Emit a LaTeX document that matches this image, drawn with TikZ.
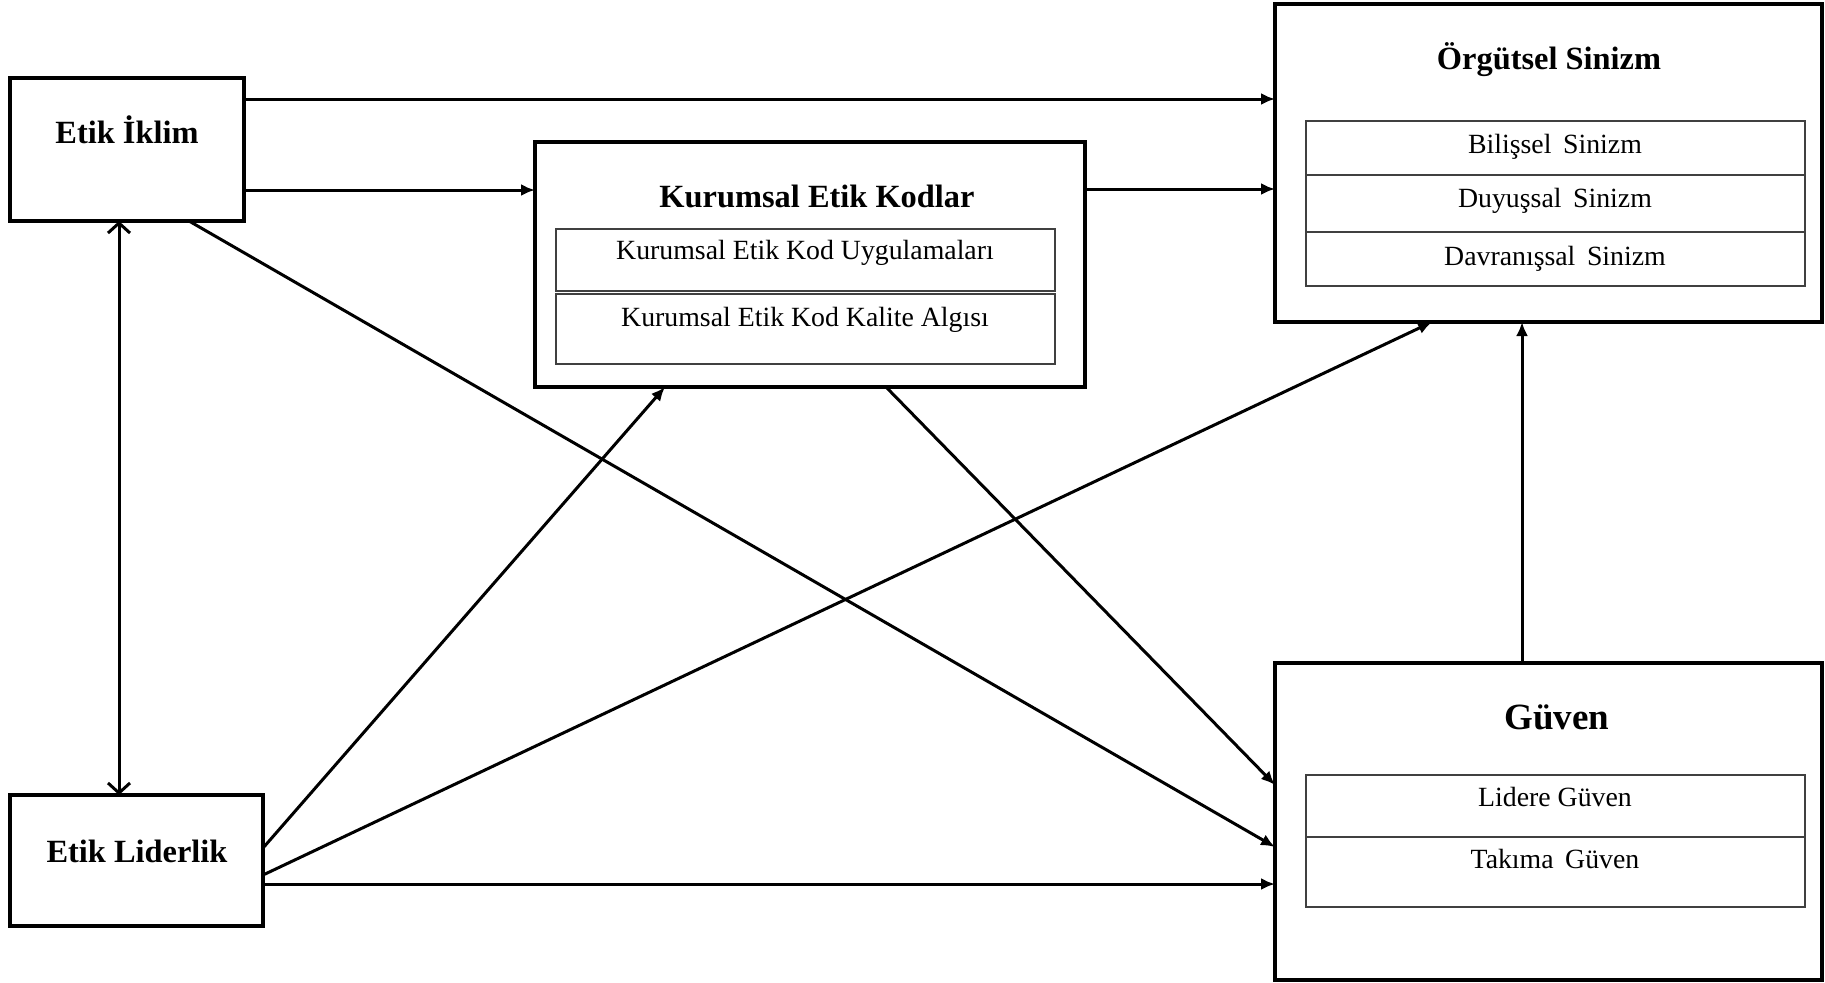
\documentclass[tikz,border=0pt]{standalone}
\usepackage{fontspec}
\setmainfont{Liberation Serif}
\usetikzlibrary{arrows.meta,fit}

\begin{document}
\begin{tikzpicture}[
  x=0.5pt, y=-0.5pt,
  outerbox/.style={draw=black, line width=1.6pt, inner sep=0pt, outer sep=0pt, fill=white},
  subbox/.style={draw=black!75, line width=1pt, inner sep=0pt, outer sep=0pt},
  title/.style={font=\bfseries\fontsize{16.2}{19}\selectfont, anchor=base, inner sep=0pt},
  bigtitle/.style={font=\bfseries\fontsize{18.5}{22}\selectfont, anchor=base, inner sep=0pt},
  subtext/.style={font=\fontsize{13.9}{16}\selectfont, anchor=base, inner sep=0pt},
  arr/.style={line width=1.5pt, -{Latex[length=7pt,width=6pt]}},
  twoway/.style={line width=1.5pt, {Straight Barb[length=5pt,width=11pt,line width=1.5pt]}-{Straight Barb[length=5pt,width=11pt,line width=1.5pt]}}
]
\useasboundingbox (0,0) rectangle (1825,982);

% main constructs
\node[outerbox, fit={(10,78) (244,221)}] (ei) {};
\node[outerbox, fit={(10,795) (263,926)}] (el) {};
\node[outerbox, fit={(535,142) (1085,387)}] (kek) {};
\node[outerbox, fit={(1275,4) (1822,322)}] (os) {};
\node[outerbox, fit={(1275,663) (1822,980)}] (gv) {};

% headings
\node[title] (eiT) at (127,143) {Etik İklim};
\node[title] (elT) at (137,862) {Etik Liderlik};
\node[title] (kekT) at (817,207) {Kurumsal Etik Kodlar};
\node[title] (osT) at (1549,69) {Örgütsel Sinizm};
\node[bigtitle] (gvT) at (1557,729) {Güven};

% sub-dimensions: Kurumsal Etik Kodlar
\node[subbox, fit={(556,229) (1055,291)}] (kek1) {};
\node[subbox, fit={(556,294) (1055,364)}] (kek2) {};
\node[subtext] (kek1T) at (805,259) {Kurumsal Etik Kod Uygulamaları};
\node[subtext] (kek2T) at (805,326) {Kurumsal Etik Kod Kalite Algısı};

% sub-dimensions: Örgütsel Sinizm
\node[subbox, fit={(1306,121) (1805,175)}] (os1) {};
\node[subbox, fit={(1306,175) (1805,232)}] (os2) {};
\node[subbox, fit={(1306,232) (1805,286)}] (os3) {};
\node[subtext] (os1T) at (1555,153) {Bilişsel\, Sinizm};
\node[subtext] (os2T) at (1555,207) {Duyuşsal\, Sinizm};
\node[subtext] (os3T) at (1555,265) {Davranışsal\, Sinizm};

% sub-dimensions: Güven
\node[subbox, fit={(1306,775) (1805,837)}] (gv1) {};
\node[subbox, fit={(1306,837) (1805,907)}] (gv2) {};
\node[subtext] (gv1T) at (1555,806) {Lidere Güven};
\node[subtext] (gv2T) at (1555,868) {Takıma\, Güven};

% relations
\draw[arr] (ei.east |- 0,99) -- (os.west |- 0,99);
\draw[arr] (ei.east |- 0,190) -- (kek.west |- 0,190);
\draw[arr] (kek.east |- 0,189) -- (os.west |- 0,189);
\draw[arr] (ei.south -| 189,0) -- (gv.west |- 0,847);
\draw[twoway] (ei.south -| 119,0) -- (el.north -| 119,0);
\draw[arr] (el.east |- 0,848) -- (kek.south -| 665,0);
\draw[arr] (el.east |- 0,875) -- (os.south -| 1432,0);
\draw[arr] (el.east |- 0,884) -- (gv.west |- 0,884);
\draw[arr] (kek.south -| 886,0) -- (gv.west |- 0,785);
\draw[arr] (gv.north -| 1522,0) -- (os.south -| 1522,0);
\end{tikzpicture}
\end{document}
